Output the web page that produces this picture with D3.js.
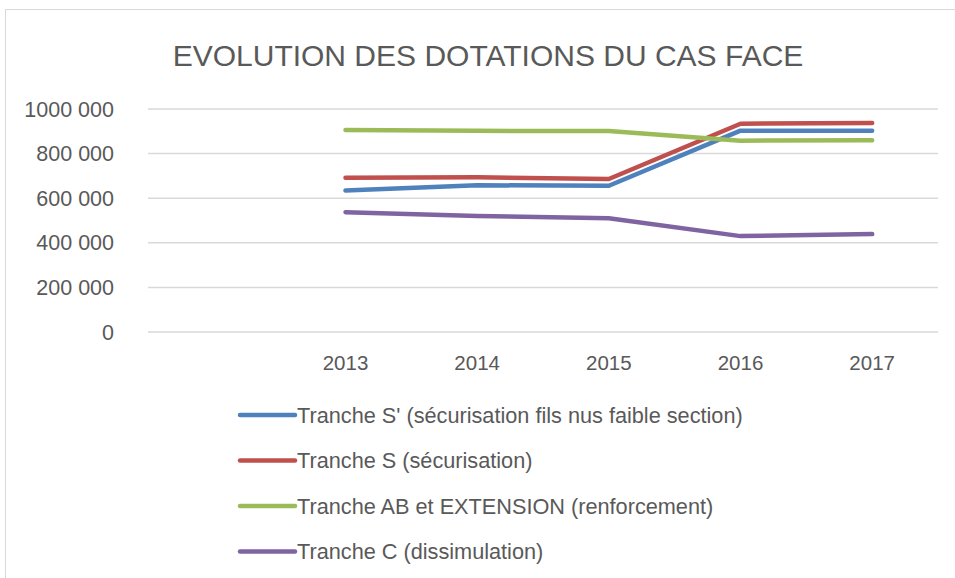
<!DOCTYPE html>
<html>
<head>
<meta charset="utf-8">
<script src="https://cdn.jsdelivr.net/npm/d3@7"></script>
<style>
  body { margin: 0; background: #fff; }
  text { font-family: "Liberation Sans", Arial, sans-serif; fill: #595959; }
</style>
</head>
<body>
<svg id="chart" width="955" height="578"></svg>
<script>
const categories = ["", "2013", "2014", "2015", "2016", "2017"];
const seriesNames = [
    "Tranche S' (sécurisation fils nus faible section)",
    "Tranche S (sécurisation)",
    "Tranche AB et EXTENSION (renforcement)",
    "Tranche C (dissimulation)"
];
const trancheSPrime = [null, 634000, 658000, 656000, 903000, 902000];
const trancheS = [null, 692000, 694000, 686000, 934000, 937000];
const trancheAB = [null, 906000, 902000, 901000, 858000, 860000];
const trancheC = [null, 537000, 520000, 510000, 430000, 439000];
const yTicks = [0, 200000, 400000, 600000, 800000, 1000000];
const yTickLabels = ["0", "200 000", "400 000", "600 000", "800 000", "1000 000"];
const colors = ["#4f81bd", "#c0504d", "#9bbb59", "#8064a2"];

const svg = d3.select("#chart");

// chart frame
svg.append("rect")
    .attr("x", 5.5).attr("y", 9.5)
    .attr("width", 1000).attr("height", 1000)
    .attr("fill", "none")
    .attr("stroke", "#d9d9d9");

svg.append("text")
    .attr("x", 488).attr("y", 66)
    .attr("text-anchor", "middle")
    .attr("font-size", 30)
    .text("EVOLUTION DES DOTATIONS DU CAS FACE");

const x = d3.scalePoint().domain(categories).range([148, 938]).padding(0.5);
const y = d3.scaleLinear().domain([0, 1000000]).range([332, 109]);

// gridlines
svg.append("g")
    .selectAll("line")
    .data(yTicks)
    .enter()
    .append("line")
    .attr("x1", 148).attr("x2", 938)
    .attr("y1", d => y(d)).attr("y2", d => y(d))
    .attr("stroke", "#d9d9d9")
    .attr("stroke-width", 1.5);

// y labels
svg.append("g")
    .selectAll("text")
    .data(yTicks)
    .enter()
    .append("text")
    .attr("x", 114)
    .attr("y", d => y(d))
    .attr("dy", "0.35em")
    .attr("text-anchor", "end")
    .attr("font-size", 21.5)
    .text((d, i) => yTickLabels[i]);

// x labels
svg.append("g")
    .selectAll("text")
    .data(categories)
    .enter()
    .append("text")
    .attr("x", d => x(d))
    .attr("y", 363)
    .attr("dy", "0.35em")
    .attr("text-anchor", "middle")
    .attr("font-size", 20.5)
    .text(d => d);

const allSeries = [trancheSPrime, trancheS, trancheAB, trancheC];

const line = d3.line()
    .defined(d => d.v !== null)
    .x(d => x(d.c))
    .y(d => y(d.v));

allSeries.forEach((values, i) => {
    const pts = values.map((v, j) => ({ c: categories[j], v: v }));
    svg.append("path")
        .attr("d", line(pts))
        .attr("fill", "none")
        .attr("stroke", colors[i])
        .attr("stroke-width", 4.5)
        .attr("stroke-linecap", "round")
        .attr("stroke-linejoin", "round");
});

// legend
const legend = svg.append("g");
seriesNames.forEach((name, i) => {
    const ly = 415 + i * 45.5;
    legend.append("line")
        .attr("x1", 240).attr("x2", 295)
        .attr("y1", ly).attr("y2", ly)
        .attr("stroke", colors[i])
        .attr("stroke-width", 4.5)
        .attr("stroke-linecap", "round");
    legend.append("text")
        .attr("x", 297)
        .attr("y", ly)
        .attr("dy", "0.35em")
        .attr("font-size", 21.7)
        .text(name);
});
</script>
</body>
</html>
